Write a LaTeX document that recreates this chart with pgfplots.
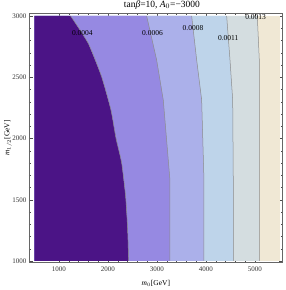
\documentclass[border=0pt]{standalone}
\usepackage{fontspec}
\setmainfont{Liberation Serif}
\usepackage{pgfplots}
\pgfplotsset{compat=1.18}
\definecolor{cA}{RGB}{75,20,134}
\definecolor{cB}{RGB}{150,137,226}
\definecolor{cC}{RGB}{171,176,234}
\definecolor{cD}{RGB}{190,212,234}
\definecolor{cE}{RGB}{212,221,224}
\definecolor{cF}{RGB}{240,232,213}
\begin{document}
\begin{tikzpicture}
\begin{axis}[
  scale only axis, width=253.7pt, height=249pt,
  xmin=390, xmax=5565, ymin=989, ymax=3022,
  xtick={1000,2000,3000,4000,5000},
  ytick={1000,1500,2000,2500,3000},
  minor x tick num=4, minor y tick num=4,
  tick align=inside, major tick length=4pt, minor tick length=2pt,
  tick style={black!70, line width=0.4pt},
  axis line style={black!60, line width=0.4pt},
  /pgf/number format/assume math mode=true,
  /pgf/number format/1000 sep={},
  tick label style={font=\fontsize{7}{8}\selectfont, text=black!80},
  yticklabel style={xshift=1pt},
  xticklabel style={yshift=-1pt},
  every axis y label/.style={at={(axis description cs:-0.0828,0.5)}, rotate=90, anchor=center},
  every axis x label/.style={at={(axis description cs:0.5,-0.0831)}, anchor=center},
  ylabel={\fontsize{7.5}{9}\selectfont \textit{m}$_{1/2}$[GeV]},
  xlabel={\fontsize{7.5}{9}\selectfont \textit{m}$_{0}$[GeV]},
  every axis title shift=0pt,
  title style={at={(axis description cs:0.524,1.033)}, anchor=center, font=\fontsize{9.5}{10}\selectfont},
  title={tan\textit{β}=10, \textit{A}$_0$=−3000},
  clip=true,
]
% background (cream)
\addplot[fill=cF, draw=none] coordinates {(500,1000) (500,3000) (5500,3000) (5500,1000)} -- cycle;
% left of boundary 5
\addplot[fill=cE, draw=none] coordinates {(500,1000) (500,3000) (5047,3000) (5088,2641) (5088,2314) (5088,1661) (5088,1000)} -- cycle;
% left of boundary 4
\addplot[fill=cD, draw=none] coordinates {(500,1000) (500,3000) (4422,3000) (4490,2641) (4545,2314) (4557,1661) (4557,1000)} -- cycle;
% left of boundary 3
\addplot[fill=cC, draw=none] coordinates {(500,1000) (500,3000) (3708,3000) (3810,2641) (3912,2314) (3959,1661) (3959,1000)} -- cycle;
% left of boundary 2
\addplot[fill=cB, draw=none] coordinates {(500,1000) (500,3000) (2790,3000) (2994,2641) (3129,2314) (3265,1661) (3265,1000)} -- cycle;
% left of boundary 1
\addplot[fill=cA, draw=none] coordinates {(500,1000) (500,3000) (1239,3000) (1598,2777) (1871,2504) (2061,2233) (2163,2004) (2280,1800) (2361,1525) (2402,1253) (2422,1000)} -- cycle;
% contour lines
\addplot[black!45, line width=0.5pt, smooth] coordinates {(1239,3000) (1598,2777) (1871,2504) (2061,2233) (2163,2004) (2280,1800) (2361,1525) (2402,1253) (2422,1000)};
\addplot[black!45, line width=0.5pt] coordinates {(2790,3000) (2994,2641) (3129,2314) (3265,1661) (3265,1000)};
\addplot[black!45, line width=0.5pt] coordinates {(3708,3000) (3810,2641) (3912,2314) (3959,1661) (3959,1000)};
\addplot[black!45, line width=0.5pt] coordinates {(4422,3000) (4490,2641) (4545,2314) (4557,1661) (4557,1000)};
\addplot[black!45, line width=0.5pt] coordinates {(5047,3000) (5088,2641) (5088,2314) (5088,1661) (5088,1000)};
% contour labels
\node[font=\fontsize{7.5}{8}\selectfont] at (axis cs:1480,2861) {0.0004};
\node[font=\fontsize{7.5}{8}\selectfont] at (axis cs:2908,2861) {0.0006};
\node[font=\fontsize{7.5}{8}\selectfont] at (axis cs:3735,2905) {0.0008};
\node[font=\fontsize{7.5}{8}\selectfont] at (axis cs:4455,2823) {0.0011};
\node[font=\fontsize{7.5}{8}\selectfont] at (axis cs:5014,2994) {0.0013};
\end{axis}
\pgfresetboundingbox
\useasboundingbox (-29pt,-27.7pt) rectangle (256pt,262.3pt);
\end{tikzpicture}
\end{document}
